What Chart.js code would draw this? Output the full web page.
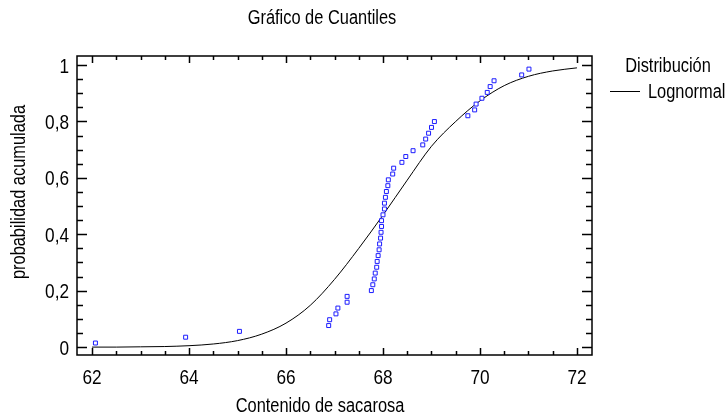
<!DOCTYPE html>
<html>
<head>
<meta charset="utf-8">
<script src="https://cdn.jsdelivr.net/npm/chart.js@4.4.0/dist/chart.umd.min.js"></script>
<style>
  html, body { margin: 0; padding: 0; background: #fff; }
</style>
</head>
<body>
<canvas id="cuantiles" width="727" height="415"></canvas>
<script>
// contenido de sacarosa (ordenado) y probabilidad acumulada empirica
const sacarosa = [62.07, 63.93, 65.04, 66.88, 66.90, 67.03, 67.07, 67.26, 67.26, 67.76,
  67.79, 67.82, 67.84, 67.87, 67.88, 67.90, 67.92, 67.93, 67.95, 67.96,
  67.97, 67.97, 68.00, 68.03, 68.03, 68.05, 68.07, 68.10, 68.11, 68.20,
  68.22, 68.39, 68.47, 68.62, 68.82, 68.88, 68.94, 69.00, 69.06, 69.75,
  69.89, 69.92, 70.04, 70.15, 70.21, 70.29, 70.86, 71.01];
const probEmpirica = [0.0145, 0.0351, 0.0558, 0.0764, 0.0971, 0.1178, 0.1384, 0.1591, 0.1798, 0.2004,
  0.2211, 0.2417, 0.2624, 0.2831, 0.3037, 0.3244, 0.3450, 0.3657, 0.3864, 0.4070,
  0.4277, 0.4483, 0.4690, 0.4897, 0.5103, 0.5310, 0.5517, 0.5723, 0.5930, 0.6136,
  0.6343, 0.6550, 0.6756, 0.6963, 0.7169, 0.7376, 0.7583, 0.7789, 0.7996, 0.8202,
  0.8409, 0.8616, 0.8822, 0.9029, 0.9236, 0.9442, 0.9649, 0.9855];

// curva lognormal ajustada
const curvaX = [62, 62.5, 63, 63.5, 64, 64.5, 65, 65.5, 66, 66.5, 67, 67.5, 68, 68.5, 69, 69.5, 70, 70.5, 71, 71.5, 72];
const curvaP = [0.000, 0.000, 0.001, 0.002, 0.005, 0.011, 0.023, 0.046, 0.085, 0.148, 0.240,
  0.350, 0.468, 0.592, 0.712, 0.800, 0.873, 0.927, 0.960, 0.979, 0.990];

const ticksX = [62, 64, 66, 68, 70, 72];
const ticksY = [0, 0.2, 0.4, 0.6, 0.8, 1];

// no hay Arial Narrow: se estrecha Liberation Sans en horizontal
const fuente = "'Liberation Sans', Arial, sans-serif";
const estrecho = 0.82;
const coma = v => String(v).replace('.', ',');

function texto(ctx, str, x, y, size, align) {
  ctx.save();
  ctx.font = size + 'px ' + fuente;
  ctx.textAlign = align || 'center';
  ctx.textBaseline = 'alphabetic';
  ctx.translate(x, y);
  ctx.scale(estrecho, 1);
  ctx.fillText(str, 0, 0);
  ctx.restore();
}

// marco con marcas hacia dentro en los cuatro lados, rotulos, titulos y leyenda
const marco = {
  id: 'marco',
  afterDatasetsDraw(chart) {
    const { ctx, chartArea: a, scales } = chart;
    const sx = scales.x, sy = scales.y;
    ctx.save();
    ctx.strokeStyle = '#000';
    ctx.lineWidth = 1.5;
    ctx.strokeRect(a.left, a.top, a.right - a.left, a.bottom - a.top);
    ctx.beginPath();
    for (let i = 0; i <= 20; i++) {
      const px = Math.round(sx.getPixelForValue(62 + i * 0.5)) + 0.5;
      const len = i % 4 === 0 ? 7 : 4;
      ctx.moveTo(px, a.bottom); ctx.lineTo(px, a.bottom - len);
      ctx.moveTo(px, a.top); ctx.lineTo(px, a.top + len);
    }
    for (let i = 0; i <= 20; i++) {
      const py = Math.round(sy.getPixelForValue(i * 0.05)) + 0.5;
      const len = i % 4 === 0 ? 10 : 6;
      ctx.moveTo(a.left, py); ctx.lineTo(a.left + len, py);
      ctx.moveTo(a.right, py); ctx.lineTo(a.right - len, py);
    }
    ctx.stroke();
    ctx.restore();
  },
  afterDraw(chart) {
    const { ctx, chartArea: a, scales } = chart;
    ctx.save();
    ctx.fillStyle = '#000';
    ctx.strokeStyle = '#000';
    scales.x.ticks.forEach(t => texto(ctx, coma(t.value), scales.x.getPixelForValue(t.value), a.bottom + 29, 21));
    scales.y.ticks.forEach(t => texto(ctx, coma(t.value), a.left - 8, scales.y.getPixelForValue(t.value) + 7.5, 21, 'right'));

    texto(ctx, 'Gráfico de Cuantiles', 322, 24, 20);
    texto(ctx, 'Contenido de sacarosa', 320, 412, 20);
    texto(ctx, 'Distribución', 668, 72, 20);
    texto(ctx, 'Lognormal', 648, 98, 20, 'left');
    ctx.beginPath();
    ctx.lineWidth = 1;
    ctx.moveTo(610, 91.5); ctx.lineTo(640, 91.5);
    ctx.stroke();

    ctx.translate(25, 192);
    ctx.rotate(-Math.PI / 2);
    texto(ctx, 'probabilidad acumulada', 0, 0, 20);
    ctx.restore();
  }
};

new Chart(document.getElementById('cuantiles'), {
  type: 'scatter',
  data: {
    datasets: [{
      label: 'Sacarosa',
      data: sacarosa.map((x, i) => ({ x: x, y: probEmpirica[i] })),
      pointStyle: 'rect',
      pointRadius: 2.8,
      borderWidth: 1,
      borderColor: '#1c1cff',
      backgroundColor: '#ffffff'
    }, {
      label: 'Lognormal',
      data: curvaX.map((x, i) => ({ x: x, y: curvaP[i] })),
      showLine: true,
      pointRadius: 0,
      borderColor: '#000',
      borderWidth: 1,
      cubicInterpolationMode: 'monotone'
    }]
  },
  options: {
    responsive: false,
    devicePixelRatio: 1,
    animation: false,
    layout: { padding: { top: 56, right: 135, left: 0, bottom: 0 } },
    plugins: { legend: { display: false }, tooltip: { enabled: false } },
    scales: {
      x: {
        type: 'linear',
        min: 61.69,
        max: 72.31,
        afterBuildTicks: s => { s.ticks = ticksX.map(v => ({ value: v })); },
        afterFit: s => { s.height = 60; },
        grid: { display: false, drawTicks: false },
        border: { display: false },
        ticks: { display: false }
      },
      y: {
        type: 'linear',
        min: -0.028,
        max: 1.032,
        afterBuildTicks: s => { s.ticks = ticksY.map(v => ({ value: v })); },
        afterFit: s => { s.width = 77; },
        grid: { display: false, drawTicks: false },
        border: { display: false },
        ticks: { display: false }
      }
    }
  },
  plugins: [marco]
});
</script>
</body>
</html>
